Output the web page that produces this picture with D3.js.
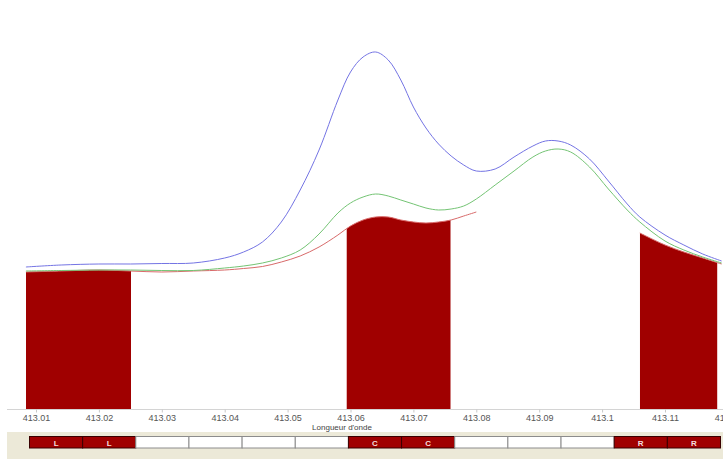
<!DOCTYPE html>
<html>
<head>
<meta charset="utf-8">
<script src="https://cdn.jsdelivr.net/npm/d3@7"></script>
<style>
  html, body { margin: 0; padding: 0; background: #fff; }
  svg { display: block; }
</style>
</head>
<body>
<svg id="chart" width="723" height="459"></svg>
<script>
// wavelength grid (nm) and three intensity series
const wavelength = [413.0084, 413.0140, 413.0200, 413.0250, 413.0300, 413.0350, 413.0400, 413.0430,
  413.0460, 413.0490, 413.0520, 413.0550, 413.0580, 413.0600, 413.0620, 413.0640, 413.0660, 413.0680,
  413.0700, 413.0720, 413.0740, 413.0760, 413.0780, 413.0800, 413.0830, 413.0860, 413.0890, 413.0910,
  413.0930, 413.0950, 413.0980, 413.1010, 413.1040, 413.1060, 413.1100, 413.1130, 413.1160,
  413.1190];
const spectrum = [142, 144, 145, 145, 145.5, 146, 151, 157, 167, 187, 219, 259, 309, 337, 352, 357, 349,
  329, 302, 281, 265, 253, 244, 238, 240, 252, 263, 268, 268, 264, 250, 228, 205, 192, 174, 164, 155, 148];
const fit = [138, 138.5, 139, 139, 138.5, 138.5, 141, 143, 146, 151, 159, 175, 196, 206, 212, 215, 213,
  209, 205, 201, 199, 200, 203, 210, 224, 238, 252, 258, 260, 257, 242, 220, 199, 187, 168, 159, 152, 146];
const continuum = [137, 138, 139, 138, 137, 138, 139, 140.5, 142.5, 147, 153, 162, 174, 183, 189, 192, 192,
  189, 187, 186, 187, 189, 193, 197, null, null, null, null, null, null, null, null, null,
  176, 164, 157, 151, 145];

// continuum windows: left, centre, right
const regions = [[413.0084, 413.0251], [413.0594, 413.0759], [413.1060, 413.1183]];

const tickValues = [413.01, 413.02, 413.03, 413.04, 413.05, 413.06, 413.07, 413.08, 413.09, 413.1, 413.11, 413.12];
const segLabels = ['L', 'L', '', '', '', '', 'C', 'C', '', '', '', 'R', 'R'];

const svg = d3.select('#chart');

const x = d3.scaleLinear().domain([413.01, 413.11]).range([36, 665]);
const y = d3.scaleLinear().domain([0, 400]).range([409, 9]);

const rows = wavelength.map((w, i) => ({ w: w, s: spectrum[i], f: fit[i], c: continuum[i] }));
const curve = d3.curveCatmullRom.alpha(0.5);

// filled windows under the continuum
const defs = svg.append('defs');
regions.forEach((r, i) => {
  defs.append('clipPath').attr('id', 'reg' + i)
    .append('rect')
    .attr('x', x(r[0])).attr('y', 0)
    .attr('width', x(r[1]) - x(r[0])).attr('height', y(0));
});

const area = d3.area()
  .defined(d => d.c !== null)
  .x(d => x(d.w))
  .y0(y(0))
  .y1(d => y(d.c))
  .curve(curve);

regions.forEach((r, i) => {
  svg.append('path')
    .datum(rows)
    .attr('clip-path', 'url(#reg' + i + ')')
    .attr('fill', '#a00000')
    .attr('d', area);
});

const line = key => d3.line()
  .defined(d => d[key] !== null)
  .x(d => x(d.w))
  .y(d => y(d[key]))
  .curve(curve);

svg.append('path').datum(rows)
  .attr('fill', 'none').attr('stroke', '#d86a6a').attr('stroke-width', 1)
  .attr('d', line('c'));
svg.append('path').datum(rows)
  .attr('fill', 'none').attr('stroke', '#74c474').attr('stroke-width', 1)
  .attr('d', line('f'));
svg.append('path').datum(rows)
  .attr('fill', 'none').attr('stroke', '#7474e4').attr('stroke-width', 1)
  .attr('d', line('s'));

// bottom band behind the window selector
svg.append('rect')
  .attr('x', 7).attr('y', 432)
  .attr('width', 716).attr('height', 27)
  .attr('fill', '#ece9d8');

// x axis
svg.append('line')
  .attr('x1', 7).attr('x2', 723)
  .attr('y1', y(0) + 0.5).attr('y2', y(0) + 0.5)
  .attr('stroke', '#d4d4d4');

const xAxis = d3.axisBottom(x)
  .tickValues(tickValues)
  .tickSize(3)
  .tickPadding(2)
  .tickFormat(d => String(+d.toFixed(2)));

const gx = svg.append('g')
  .attr('transform', 'translate(0,' + (y(0) + 0.5) + ')')
  .call(xAxis);
gx.select('.domain').remove();
gx.selectAll('.tick line').attr('stroke', '#c8c8c8');
gx.selectAll('.tick text')
  .attr('fill', '#555')
  .style('font-family', '"Liberation Sans", Arial, sans-serif')
  .style('font-size', '9px');

svg.append('text')
  .attr('x', 342).attr('y', 430)
  .attr('text-anchor', 'middle')
  .attr('fill', '#444')
  .style('font-family', '"Liberation Sans", Arial, sans-serif')
  .style('font-size', '8px')
  .text("Longueur d'onde");

// window selector
const seg = d3.scaleBand()
  .domain(d3.range(segLabels.length))
  .range([29.5, 720.5]);

const cells = svg.append('g').selectAll('g')
  .data(segLabels)
  .join('g')
  .attr('transform', (d, i) => 'translate(' + seg(i) + ',436.5)');

cells.append('rect')
  .attr('width', seg.bandwidth())
  .attr('height', 11.5)
  .attr('fill', d => d ? '#a00000' : '#fff')
  .attr('stroke', d => d ? '#3a0000' : '#8c8c8c')
  .attr('stroke-width', 1);

cells.append('text')
  .attr('x', seg.bandwidth() / 2)
  .attr('y', 9)
  .attr('text-anchor', 'middle')
  .attr('fill', '#f4dede')
  .style('font-family', '"Liberation Sans", Arial, sans-serif')
  .style('font-size', '8px')
  .style('font-weight', 'bold')
  .text(d => d);
</script>
</body>
</html>
